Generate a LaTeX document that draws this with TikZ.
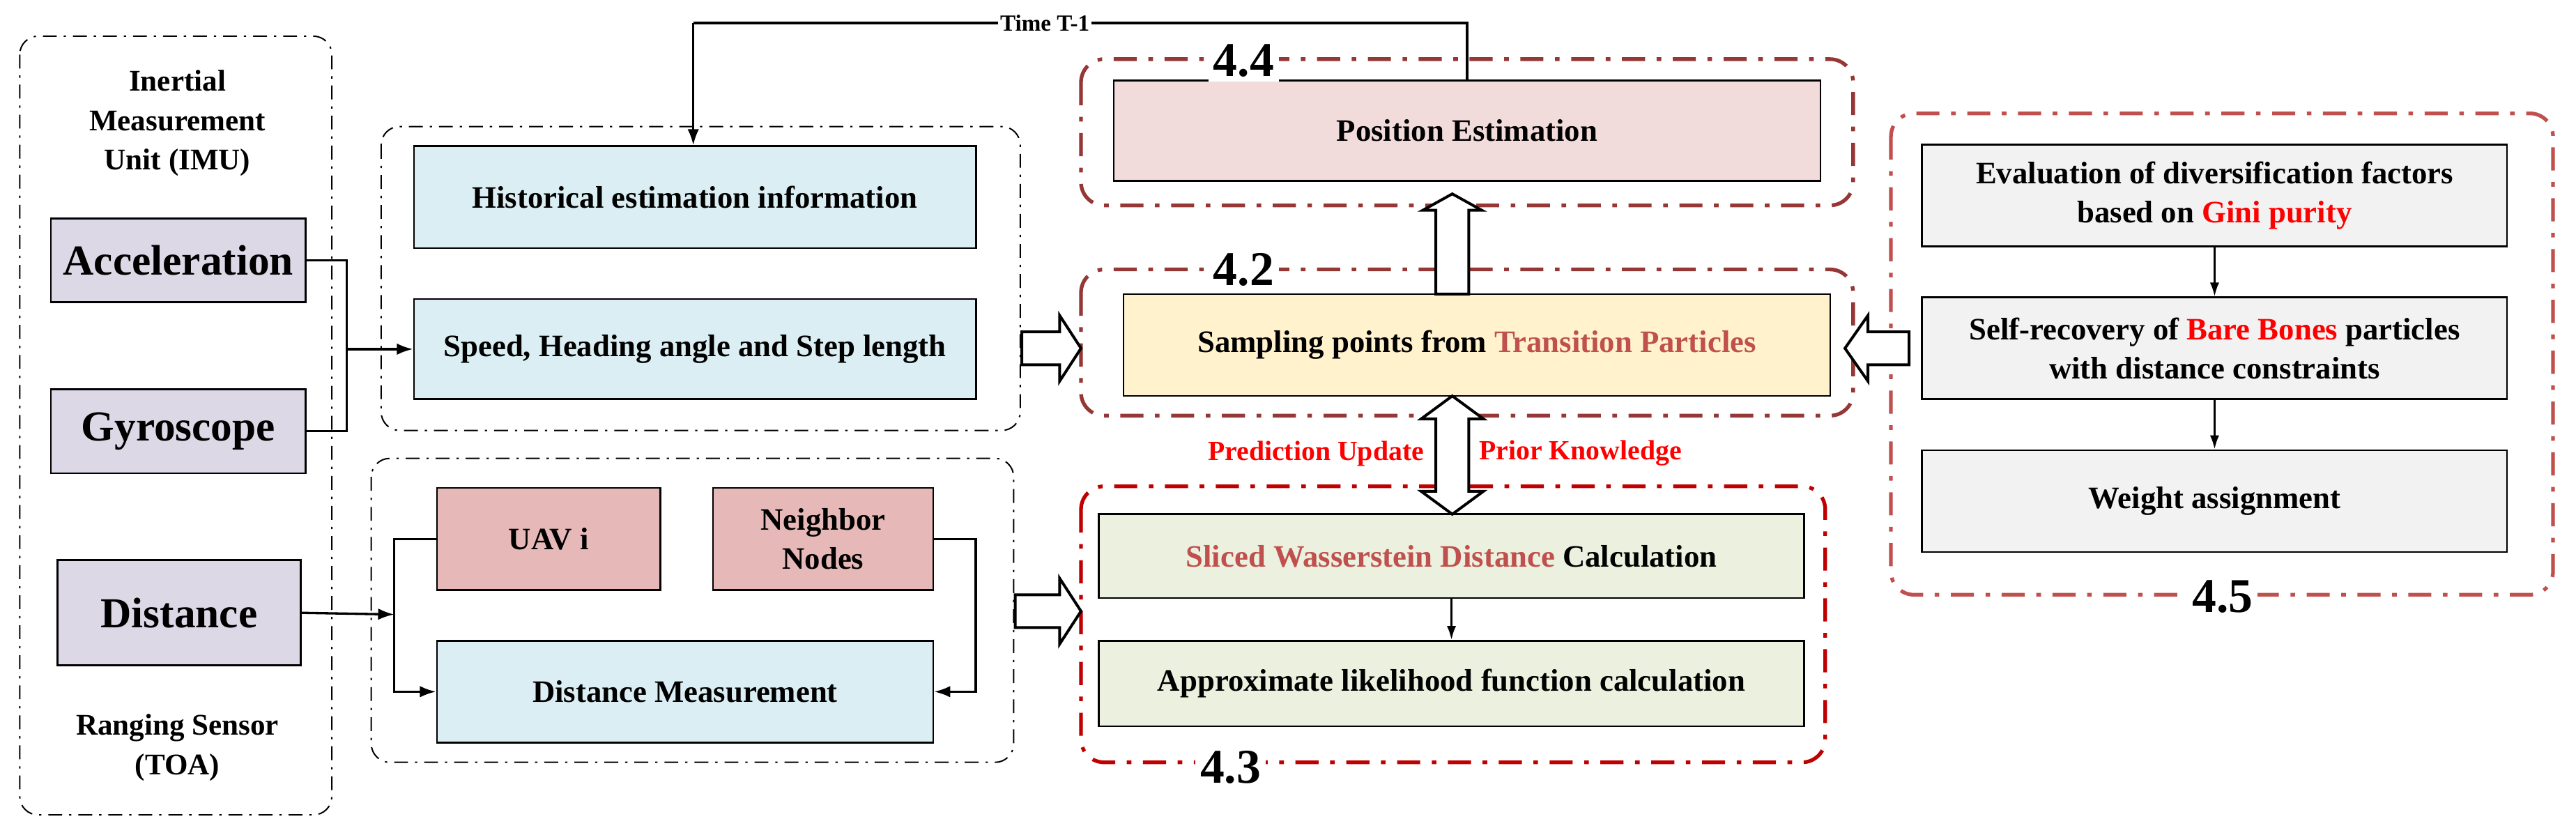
\documentclass[tikz,border=0pt]{standalone}
\usepackage{fontspec}
\setmainfont{Liberation Serif}
\usetikzlibrary{arrows.meta}
\definecolor{boxA}{HTML}{DDD8E6}
\definecolor{boxB}{HTML}{DAEEF3}
\definecolor{boxC}{HTML}{E6B9B8}
\definecolor{boxD}{HTML}{F2DCDB}
\definecolor{boxE}{HTML}{FFF2CC}
\definecolor{boxF}{HTML}{EBF1DE}
\definecolor{boxG}{HTML}{F2F2F2}
\definecolor{redA}{HTML}{953735}
\definecolor{redB}{HTML}{C00000}
\definecolor{redC}{HTML}{C0504D}
\definecolor{txtR}{HTML}{C0504D}
\begin{document}
\begin{tikzpicture}[x=0.025cm,y=-0.025cm,
  blk/.style={draw,line width=0.8pt,font=\bfseries\fontsize{13.5}{17}\selectfont,align=center,inner sep=0pt},
  big/.style={blk,fill=boxA,font=\bfseries\fontsize{18.5}{22}\selectfont},
  grp/.style={draw,line width=0.6pt,rounded corners=8pt,dash pattern=on 6pt off 3pt on 1pt off 3pt},
  rgrp/.style={draw,line width=1.6pt,rounded corners=10pt,dash pattern=on 10pt off 5pt on 2pt off 5pt},
  lbl/.style={font=\bfseries\fontsize{21}{22}\selectfont,fill=white,inner sep=2pt},
  con/.style={line width=1pt,-{Latex[length=7pt,width=5pt]}},
  hol/.style={draw,fill=white,line width=1.2pt},
  red/.style={text=red,font=\bfseries\fontsize{12}{14}\selectfont}]
\useasboundingbox (0,0) rectangle (1568,508);
% left group
\draw[grp] (12,22) rectangle (202,496);
\node[font=\bfseries\fontsize{13}{17}\selectfont,align=center] (imu) at (108,75) {Inertial\\Measurement\\Unit (IMU)};
\node[big,minimum width=3.875cm,minimum height=1.275cm] (acc) at (108.5,158.5) {Acceleration};
\node[big,minimum width=3.875cm,minimum height=1.275cm] (gyr) at (108.5,262.5) {Gyroscope};
\node[big,minimum width=3.7cm,minimum height=1.6cm] (dis) at (109,373) {Distance};
\node[font=\bfseries\fontsize{13}{17}\selectfont,align=center] (rs) at (108,455) {Ranging Sensor\\(TOA)};
% group 1
\draw[grp] (232,77) rectangle (621,262);
\node[blk,fill=boxB,minimum width=8.55cm,minimum height=1.55cm] (his) at (423,120) {Historical estimation information};
\node[blk,fill=boxB,minimum width=8.55cm,minimum height=1.525cm] (spd) at (423,212.5) {Speed, Heading angle and Step length};
\coordinate (j1) at (211,212.5);
\draw[line width=1pt] (acc.east) -| (211,262.5) -- (gyr.east);
\draw[con] (j1) -- (spd.west);
% group 2
\draw[grp] (226,279) rectangle (617,464);
\node[blk,fill=boxC,minimum width=3.4cm,minimum height=1.55cm] (uav) at (334,328) {UAV i};
\node[blk,fill=boxC,minimum width=3.35cm,minimum height=1.55cm] (nei) at (501,328) {Neighbor\\Nodes};
\node[blk,fill=boxB,minimum width=7.55cm,minimum height=1.55cm] (dm) at (417,421) {Distance Measurement};
\coordinate (j2) at (240,374);
\draw[con] (dis.east) -- (j2);
\draw[con] (uav.west) -| (240,421) -- (dm.west);
\draw[con] (nei.east) -| (594,421) -- (dm.east);
% 4.4
\draw[rgrp,redA] (658,36) rectangle (1128,125);
\node[blk,fill=boxD,minimum width=10.75cm,minimum height=1.525cm] (pos) at (893,79.5) {Position Estimation};
\node[lbl] (l44) at (757,37) {4.4};
% 4.2
\draw[rgrp,redA] (658,164) rectangle (1128,253);
\node[blk,fill=boxE,minimum width=10.75cm,minimum height=1.55cm] (smp) at (899,210) {Sampling points from \textcolor{txtR}{Transition Particles}};
\node[lbl] (l42) at (757,164) {4.2};
% 4.3
\draw[rgrp,redB] (658,296) rectangle (1111,464);
\node[blk,fill=boxF,minimum width=10.725cm,minimum height=1.275cm] (swd) at (883.5,338.5) {\textcolor{txtR}{Sliced Wasserstein Distance} Calculation};
\node[blk,fill=boxF,minimum width=10.725cm,minimum height=1.3cm] (apx) at (883.5,416) {Approximate likelihood function calculation};
\node[lbl] (l43) at (749,467) {4.3};
\draw[line width=0.8pt,-{Latex[length=6pt,width=4pt]}] (swd.south) -- (apx.north);
% 4.5
\draw[rgrp,redC] (1151,69) rectangle (1554,362);
\node[blk,fill=boxG,minimum width=8.9cm,minimum height=1.55cm] (evl) at (1348,119) {Evaluation of diversification factors\\based on \textcolor{red}{Gini purity}};
\node[blk,fill=boxG,minimum width=8.9cm,minimum height=1.55cm] (slf) at (1348,212) {Self-recovery of \textcolor{red}{Bare Bones} particles\\with distance constraints};
\node[blk,fill=boxG,minimum width=8.9cm,minimum height=1.55cm] (wgt) at (1348,305) {Weight assignment};
\node[lbl] (l45) at (1353,363) {4.5};
\draw[line width=0.8pt,-{Latex[length=6pt,width=4pt]}] (evl.south) -- (slf.north);
\draw[line width=0.8pt,-{Latex[length=6pt,width=4pt]}] (slf.south) -- (wgt.north);
% Time T-1
\coordinate (t1) at (422,14);
\coordinate (t2) at (893,14);
\draw[line width=1pt] (pos.north) -- (t2) -- (t1);
\node[fill=white,inner sep=1pt,font=\bfseries\fontsize{10}{11}\selectfont] (tlab) at (636,14) {Time T-1};
\draw[con] (t1) -- (his.north -| t1);
% hollow arrows
\draw[hol] (874,179) -- (874,128) -- (866,128) -- (884,118) -- (902,128) -- (894,128) -- (894,179) -- cycle;
\draw[hol] (884,241) -- (903,255) -- (894,255) -- (894,299) -- (903,299) -- (884,313) -- (865,299) -- (874,299) -- (874,255) -- (865,255) -- cycle;
\node[red] (pu) at (801,276) {Prediction Update};
\node[red] (pk) at (962,276) {Prior Knowledge};
\draw[hol] (622,202) -- (645,202) -- (645,192) -- (658,212) -- (645,232) -- (645,222) -- (622,222) -- cycle;
\draw[hol] (618,362) -- (645,362) -- (645,352) -- (658,372) -- (645,392) -- (645,382) -- (618,382) -- cycle;
\draw[hol] (1162,202) -- (1137,202) -- (1137,192) -- (1123,212) -- (1137,232) -- (1137,222) -- (1162,222) -- cycle;
\end{tikzpicture}
\end{document}
